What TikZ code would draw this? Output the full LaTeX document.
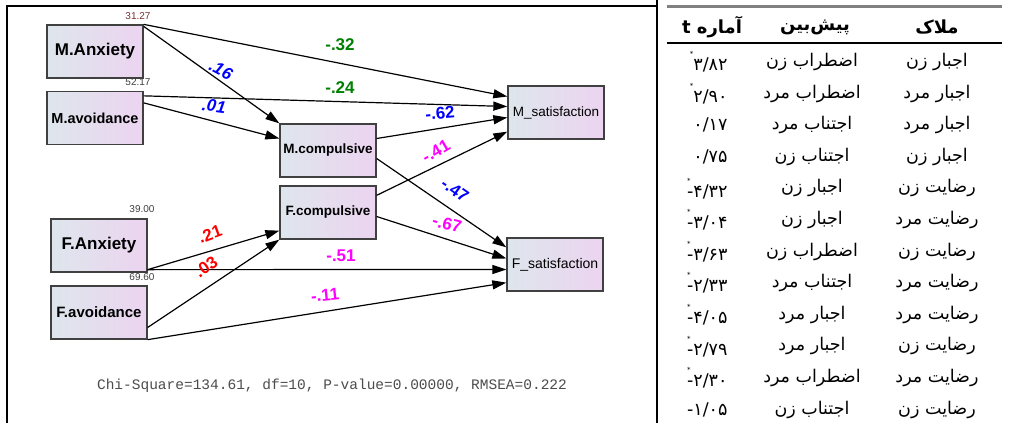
\documentclass[tikz,border=0pt]{standalone}
\usepackage{fontspec}
\setmainfont{Liberation Sans}
\setmonofont{Liberation Mono}
\newfontfamily\fafont[Script=Arabic]{DejaVu Sans}
\TeXXeTstate=1
\usetikzlibrary{arrows.meta,calc}
\definecolor{boxleft}{RGB}{222,230,236}
\definecolor{boxright}{RGB}{236,212,240}
\definecolor{pgreen}{RGB}{0,128,0}
\definecolor{pblue}{RGB}{0,0,255}
\definecolor{pmag}{RGB}{255,0,255}
\definecolor{pred}{RGB}{255,0,0}
\definecolor{numred}{RGB}{120,50,50}
\newcommand{\sg}{\llap{\raisebox{0.8em}{\scriptsize *}}}
\newcommand{\sgneg}[1]{\rlap{\raisebox{0.8em}{\scriptsize *}}\hbox{-}\hbox{#1}}
\newcommand{\tneg}[1]{\hbox{-}\hbox{#1}}

\begin{document}
\begin{tikzpicture}[x=1pt, y=-1pt,
  obsbox/.style={draw=black!75, line width=1.3pt, left color=boxleft, right color=boxright,
    minimum width=96pt, minimum height=53pt, inner sep=0pt},
  effect/.style={line width=1.2pt, -{Triangle[length=14pt,width=9pt]}},
  coef/.style={font=\bfseries\fontsize{17}{17}\selectfont},
  varnum/.style={font=\fontsize{10}{10}\selectfont, text=black!75},
  cell/.style={font=\fafont\fontsize{17.5}{20}\selectfont},
  head/.style={font=\fafont\bfseries\fontsize{18}{20}\selectfont}]
  \useasboundingbox (0,0) rectangle (1010,423);
  \fill[white] (0,0) rectangle (1010,423);

  \draw[line width=1.5pt] (7,423) |- (656,6);
  \draw[line width=2.5pt] (657,0) -- (657,423);

  \node[obsbox, font=\bfseries\fontsize{17}{17}\selectfont] (manx) at (95,51.5) {M.Anxiety};
  \node[obsbox, font=\bfseries\fontsize{14.5}{15}\selectfont] (mavo) at (95,118) {M.avoidance};
  \node[obsbox, font=\bfseries\fontsize{17}{17}\selectfont] (fanx) at (99,245.5) {F.Anxiety};
  \node[obsbox, font=\bfseries\fontsize{15}{15}\selectfont] (favo) at (99,312.5) {F.avoidance};
  \node[obsbox, font=\bfseries\fontsize{13.5}{14}\selectfont] (mcomp) at (328,150.5) {M.compulsive};
  \node[obsbox, font=\bfseries\fontsize{13.5}{14}\selectfont] (fcomp) at (328,212.5) {F.compulsive};
  \node[obsbox, font=\fontsize{13.5}{14}\selectfont] (msat) at (556,112.5) {M\_satisfaction};
  \node[obsbox, font=\fontsize{14}{14}\selectfont] (fsat) at (555,264.5) {F\_satisfaction};

  \node[varnum, text=numred] (vmanx) at (138,16) {31.27};
  \node[varnum] (vmavo) at (138,82) {52.17};
  \node[varnum] (vfanx) at (142,209) {39.00};
  \node[varnum] (vfavo) at (142,277) {69.60};

  \draw[effect] (manx.north east) -- ($(msat.west)+(0,-16)$);
  \draw[effect] ($(manx.north east)+(0,2)$) -- (mcomp.north west);
  \draw[effect] ($(mavo.north east)+(0,5)$) -- ($(msat.west)+(0,-6)$);
  \draw[effect] ($(mavo.north east)+(0,12)$) -- ($(mcomp.west)+(0,-12)$);
  \draw[effect] ($(mcomp.east)+(0,-12)$) -- ($(msat.west)+(0,5)$);
  \draw[effect] ($(fcomp.north east)+(0,10)$) -- ($(msat.south west)+(0,-8)$);
  \draw[effect] ($(mcomp.east)+(0,8)$) -- ($(fsat.north west)+(0,10)$);
  \draw[effect] ($(fcomp.east)+(0,4)$) -- ($(fsat.west)+(0,-6)$);
  \draw[effect] ($(fanx.south east)+(0,-3)$) -- ($(fcomp.south west)+(0,-9)$);
  \draw[effect] ($(favo.east)+(0,15)$) -- (fcomp.south west);
  \draw[effect] ($(fanx.south east)+(0,-3)$) -- ($(fsat.west)+(0,5)$);
  \draw[effect] (favo.south east) -- ($(fsat.south west)+(0,-9)$);

  \node[coef, pgreen] (c32) at (340,45) {-.32};
  \node[coef, pgreen] (c24) at (340,88) {-.24};
  \node[coef, pblue, font=\bfseries\itshape\fontsize{17}{17}\selectfont, rotate=-28] (c16) at (221,70) {.16};
  \node[coef, pblue, font=\bfseries\itshape\fontsize{17}{17}\selectfont, rotate=-8] (c01) at (214,106) {.01};
  \node[coef, pblue, rotate=5] (c62) at (440,113) {-.62};
  \node[coef, pmag, rotate=30] (c41) at (436,151) {-.41};
  \node[coef, pblue, rotate=-35] (c47) at (455,190) {-.47};
  \node[coef, pmag, rotate=-15] (c67) at (447,224) {-.67};
  \node[coef, pred, rotate=20] (c21) at (210,234) {.21};
  \node[coef, pred, rotate=35] (c03) at (206,267) {.03};
  \node[coef, pmag] (c51) at (341,256) {-.51};
  \node[coef, pmag, rotate=6] (c11) at (325,295) {-.11};

  \node[font=\ttfamily\fontsize{14.5}{15}\selectfont, text=black!70] (fit) at (332,386)
    {Chi-Square=134.61, df=10, P-value=0.00000, RMSEA=0.222};

  \draw[line width=3pt, black!50] (667,6) -- (1002,6);
  \draw[line width=1.8pt] (667,43) -- (1002,43);
  \node[head] (hcrit) at (937,27) {\beginR ملاک\endR};
  \node[head] (hpred) at (815,27) {\beginR پیش‌بین\endR};
  \node[head] (htval) at (712,27) {\beginR آماره \beginL t\endL\endR};
  \foreach \crit/\pred/\tval [count=\i] in {
    {اجبار زن}/{اضطراب زن}/{\sg{}۳/۸۲},
    {اجبار مرد}/{اضطراب مرد}/{\sg{}۲/۹۰},
    {اجبار مرد}/{اجتناب مرد}/{۰/۱۷},
    {اجبار زن}/{اجتناب زن}/{۰/۷۵},
    {رضایت زن}/{اجبار زن}/{\sgneg{۴/۳۲}},
    {رضایت مرد}/{اجبار زن}/{\sgneg{۳/۰۴}},
    {رضایت زن}/{اضطراب زن}/{\sgneg{۳/۶۳}},
    {رضایت مرد}/{اجتناب مرد}/{\sgneg{۲/۳۳}},
    {رضایت مرد}/{اجبار مرد}/{\sgneg{۴/۰۵}},
    {رضایت زن}/{اجبار مرد}/{\sgneg{۲/۷۹}},
    {رضایت مرد}/{اضطراب مرد}/{\sgneg{۲/۳۰}},
    {رضایت زن}/{اجتناب زن}/{\tneg{۱/۰۵}}} {
    \node[cell] (crit\i) at (937,30.4+31.6*\i) {\beginR\crit\endR};
    \node[cell] (pred\i) at (812,30.4+31.6*\i) {\beginR\pred\endR};
    \node[cell, anchor=east] (tval\i) at (731,30.4+31.6*\i) {\tval};
  }
\end{tikzpicture}
\end{document}
